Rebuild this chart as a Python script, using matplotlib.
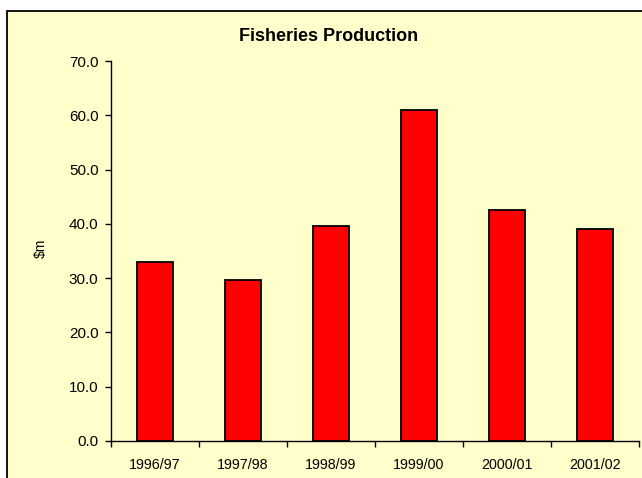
import numpy as np
import matplotlib
matplotlib.use("Agg")
import matplotlib.pyplot as plt
from matplotlib.patches import Rectangle
from matplotlib.ticker import FormatStrFormatter, FixedLocator

plt.rcParams["font.family"] = ["Liberation Sans", "DejaVu Sans"]

years = ["1996/97", "1997/98", "1998/99", "1999/00", "2000/01", "2001/02"]
production = [32.9, 29.7, 39.6, 61.0, 42.6, 39.0]
y_ticks = [0, 10, 20, 30, 40, 50, 60, 70]

W, H = 642, 478
fig = plt.figure(figsize=(W / 100, H / 100), dpi=100, facecolor="white")

# chart area frame (runs off the right and bottom of the picture)
fig.patches.append(Rectangle((7 / W, -0.1), 2.0, 1 - 11 / H + 0.1,
                             transform=fig.transFigure, facecolor="#FFFFCC",
                             edgecolor="black", linewidth=1.3, zorder=-5))

ax = fig.add_axes([111 / W, 1 - 441 / H, 528 / W, 380 / H])
ax.set_facecolor("none")
ax.set_zorder(2)

x = np.arange(len(years))
ax.bar(x, production, width=0.4, color="#FF0000", edgecolor="black", linewidth=1.3, zorder=3)

ax.set_xlim(-0.5, len(years) - 0.5)
ax.set_ylim(0, 70)
ax.set_yticks(y_ticks)
ax.yaxis.set_major_formatter(FormatStrFormatter("%.1f"))
ax.set_xticks(x)
ax.set_xticklabels(years)
ax.xaxis.set_minor_locator(FixedLocator(np.arange(-0.5, len(years), 1.0)))

ax.tick_params(axis="y", direction="out", length=4, width=1, pad=5, labelsize=11, colors="black")
ax.tick_params(axis="x", which="major", length=0, pad=12, labelsize=10.3)
ax.tick_params(axis="x", which="minor", direction="out", length=4, width=1)

for side in ["top", "right"]:
    ax.spines[side].set_visible(False)
for side in ["left", "bottom"]:
    ax.spines[side].set_linewidth(1)
    ax.spines[side].set_color("black")

fig.text(329 / W, 1 - 41 / H, "Fisheries Production", ha="center", va="baseline",
         fontsize=13, fontweight="bold")
fig.text(41 / W, 1 - 248 / H, "$m", rotation=90, ha="center", va="center", fontsize=10)

fig.savefig("out.png", dpi=100, facecolor="white")
